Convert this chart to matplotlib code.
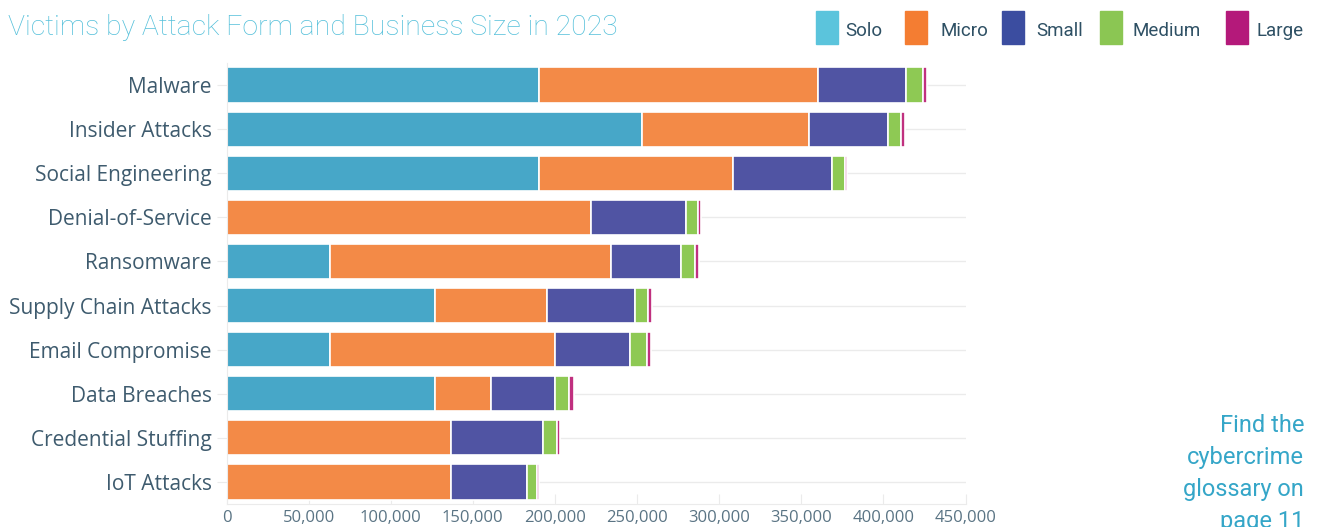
import matplotlib
matplotlib.use("Agg")
import matplotlib.pyplot as plt
from matplotlib.patches import Rectangle

# Victims per attack form, split by business size
ataques = ["Malware", "Insider Attacks", "Social Engineering", "Denial-of-Service",
           "Ransomware", "Supply Chain Attacks", "Email Compromise", "Data Breaches",
           "Credential Stuffing", "IoT Attacks"]
solo = [190000, 253000, 190000, 0, 63000, 127000, 63000, 127000, 0, 0]
micro = [170000, 102000, 118500, 222000, 171000, 68000, 137000, 34000, 137000, 137000]
small = [54000, 48000, 60000, 57500, 42500, 54000, 46000, 39000, 55500, 46000]
medium = [10000, 7500, 8000, 7500, 9000, 7500, 10000, 8500, 8500, 6000]
large = [2500, 2500, 1500, 2000, 2500, 2500, 2500, 3000, 2000, 1500]

tamanhos = ["Solo", "Micro", "Small", "Medium", "Large"]
series = [solo, micro, small, medium, large]
ticks_x = [0, 50000, 100000, 150000, 200000, 250000, 300000, 350000, 400000, 450000]

cores_barra = ["#47A7C8", "#F38A47", "#5054A3", "#8EC954", "#C0307F"]
cores_legenda = ["#5BC4DC", "#F47D32", "#3B4DA0", "#8BC653", "#B4197A"]
cor_texto = "#3E5B6E"
cor_legenda = "#2E5064"
cor_ticks = "#5A7484"
cor_titulo = "#55C0DA"
cor_nota = "#35A6C8"
cor_grade = "#EBEBEB"
fonte_leve = "Roboto"
fonte_eixo = "Open Sans"

W, H = 1319, 527
fig = plt.figure(figsize=(W / 100, H / 100), dpi=100)
ax = fig.add_axes([226.5 / W, 1 - 504 / H, 739 / W, 441 / H])

# ===================== BARRAS EMPILHADAS =====================
y = list(range(len(ataques)))
base = [0] * len(ataques)
for valores, cor, nome in zip(series, cores_barra, tamanhos):
    ax.barh(y, valores, left=base, height=0.8, color=cor, edgecolor="white",
            linewidth=1.2, label=nome, zorder=2)
    base = [b + v for b, v in zip(base, valores)]

ax.set_ylim(len(ataques) - 0.5, -0.5)
ax.set_xlim(0, 450000)
ax.set_yticks(y)
ax.set_yticklabels(ataques, fontsize=15, color=cor_texto, family=fonte_eixo)
ax.set_xticks(ticks_x)
ax.set_xticklabels([f"{t:,}" for t in ticks_x], fontsize=12, color=cor_ticks, family=fonte_eixo)

ax.set_axisbelow(True)
ax.grid(axis="y", color=cor_grade, linewidth=1)
ax.tick_params(axis="y", length=7, color=cor_grade, pad=3.5)
ax.tick_params(axis="x", direction="in", length=7, color=cor_grade, pad=4.5)
for lado in ["top", "right"]:
    ax.spines[lado].set_visible(False)
for lado in ["left", "bottom"]:
    ax.spines[lado].set_color(cor_grade)

# ===================== TITULO E LEGENDA =====================
fig.text(8 / W, 1 - 35 / H, "Victims by Attack Form and Business Size in 2023",
         fontsize=20.4, color=cor_titulo, family=fonte_leve, weight="light", va="baseline")

pos_quadro = [816, 905, 1002, 1100, 1226]
pos_texto = [845, 940, 1036, 1133, 1257]
for nome, cor, xq, xt in zip(tamanhos, cores_legenda, pos_quadro, pos_texto):
    fig.patches.append(Rectangle((xq / W, 1 - 44 / H), 22 / W, 33 / H,
                                 transform=fig.transFigure, color=cor))
    fig.text(xt / W, 1 - 36 / H, nome, fontsize=13.5, color=cor_legenda,
             family=fonte_leve, weight="normal", va="baseline")

# ===================== NOTA =====================
linhas_nota = ["Find the", "cybercrime", "glossary on", "page 11"]
for i, linha in enumerate(linhas_nota):
    fig.text(1304 / W, 1 - (432 + 32 * i) / H, linha, fontsize=17, color=cor_nota,
             family=fonte_leve, weight="normal", ha="right", va="baseline")

fig.savefig("out.png", dpi=100)
